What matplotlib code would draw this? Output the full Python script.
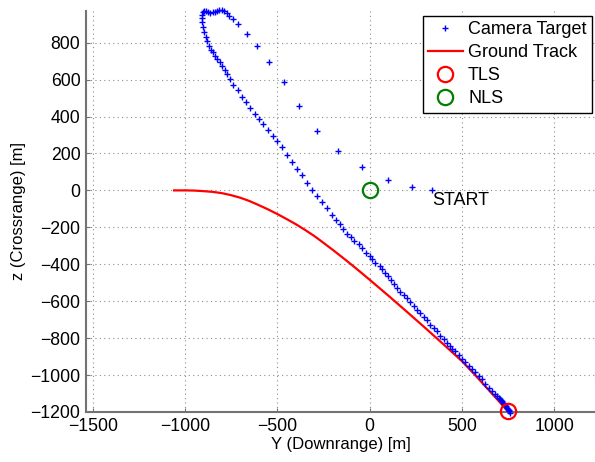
import matplotlib
matplotlib.use("Agg")
import matplotlib.pyplot as plt

plt.rcParams["font.family"] = ["Liberation Sans", "DejaVu Sans"]

# Camera target points (time order: START -> top loop -> down to TLS)
cam_y = [336, 228, 101, -43, -169, -283, -381, -463, -543, -608, -665, -711,
         -741, -760, -774, -788, -801, -814, -824, -837, -850, -864, -873, -886,
         -897, -904, -909, -909, -906, -900, -895, -886, -879, -870, -860, -850,
         -837, -824, -810, -797, -785, -770, -756, -738, -711, -692, -671, -648,
         -620, -597, -576, -548, -525, -500, -476, -449, -422, -395, -368, -341,
         -313, -286, -259, -232, -204, -180, -162, -144, -123, -101, -83, -60,
         -42, -18, 0, 13, 31, 54, 67, 81, 97, 116, 134, 148, 166, 184, 202, 220,
         238, 256, 274, 292, 310, 329, 347, 365, 383, 401, 419, 433, 446, 464,
         482, 500, 518, 536, 554, 572, 590, 608, 626, 644, 662, 680, 690, 699,
         705, 711, 717, 722, 728, 735, 740, 744, 748, 753, 757, 762]
cam_z = [0, 18, 58, 125, 211, 323, 455, 585, 693, 780, 848, 903,
         928, 946, 960, 969, 975, 978, 973, 964, 964, 960, 964, 973,
         969, 964, 950, 933, 910, 885, 858, 831, 807, 783, 762, 747,
         725, 711, 697, 671, 650, 632, 603, 572, 541, 506, 480, 446,
         415, 387, 361, 329, 296, 265, 235, 193, 154, 116, 81, 40,
         4, -32, -62, -93, -135, -162, -183, -207, -234, -255, -273, -293,
         -314, -338, -356, -372, -392, -410, -428, -449, -464, -485, -507, -530,
         -548, -566, -584, -607, -625, -647, -665, -686, -704, -728, -746, -764,
         -787, -805, -827, -845, -859, -872, -889, -911, -931, -949, -967, -985,
         -1006, -1024, -1046, -1069, -1087, -1105, -1112, -1123, -1128, -1136,
         -1143, -1150, -1157, -1164, -1170, -1177, -1183, -1190, -1196, -1204]

# Ground track
trk_y = [-1059, -1000, -950, -900, -850, -800, -750, -700, -650, -600, -550,
         -500, -450, -400, -350, -300, -250, -200, -150, -100, -50, 0, 100,
         200, 300, 400, 500, 571, 600, 700, 760]
trk_z = [0, 0, -1, -4, -8, -15, -26, -40, -58, -80, -103,
         -128, -155, -183, -214, -247, -284, -322, -361, -401, -442, -484, -569,
         -656, -744, -834, -925, -1000, -1032, -1142, -1210]

tls = (750, -1197)
nls = (0, 0)

fig = plt.figure(figsize=(5.95, 4.62), dpi=100)
ax = fig.add_axes([86 / 595, 1 - 412 / 462, 509 / 595, 401.3 / 462])

ax.plot(cam_y, cam_z, "+", color="blue", ms=5, mew=1.0, label="Camera Target",
        clip_on=False, zorder=3)
ax.plot(trk_y, trk_z, "-", color="red", lw=1.6, label="Ground Track", zorder=2)
ax.plot(tls[0], tls[1], "o", mfc="none", mec="red", ms=11, mew=1.6,
        label="TLS", clip_on=False, zorder=4)
ax.plot(nls[0], nls[1], "o", mfc="none", mec="green", ms=11, mew=1.6,
        label="NLS", zorder=4)
ax.text(338, -56, "START", fontsize=13, va="center", ha="left")

ax.set_xlim(-1536, 1220)
ax.set_ylim(-1200, 973)
ax.set_xticks([-1500, -1000, -500, 0, 500, 1000])
ax.set_yticks(list(range(-1200, 801, 200)))

ax.grid(True, color="0.55", linestyle=(0, (1, 3)), lw=0.8)
ax.set_axisbelow(True)
for s in ["top", "right"]:
    ax.spines[s].set_visible(False)
for s in ["left", "bottom"]:
    ax.spines[s].set_color("0.45")
    ax.spines[s].set_linewidth(1.5)
ax.tick_params(direction="in", length=3, color="0.45", labelsize=12.7, pad=4)

ax.set_xlabel("Y (Downrange) [m]", fontsize=12, labelpad=2)
ax.set_ylabel("z (Crossrange) [m]", fontsize=12, labelpad=3)

leg = ax.legend(loc="upper right", bbox_to_anchor=(0.994, 0.987), borderaxespad=0,
                fontsize=13, fancybox=False, framealpha=1, edgecolor="black",
                labelspacing=0.33, handlelength=1.9, handletextpad=0.3,
                borderpad=0.3)
leg.get_frame().set_linewidth(1.0)

fig.savefig("out.png", dpi=100)
